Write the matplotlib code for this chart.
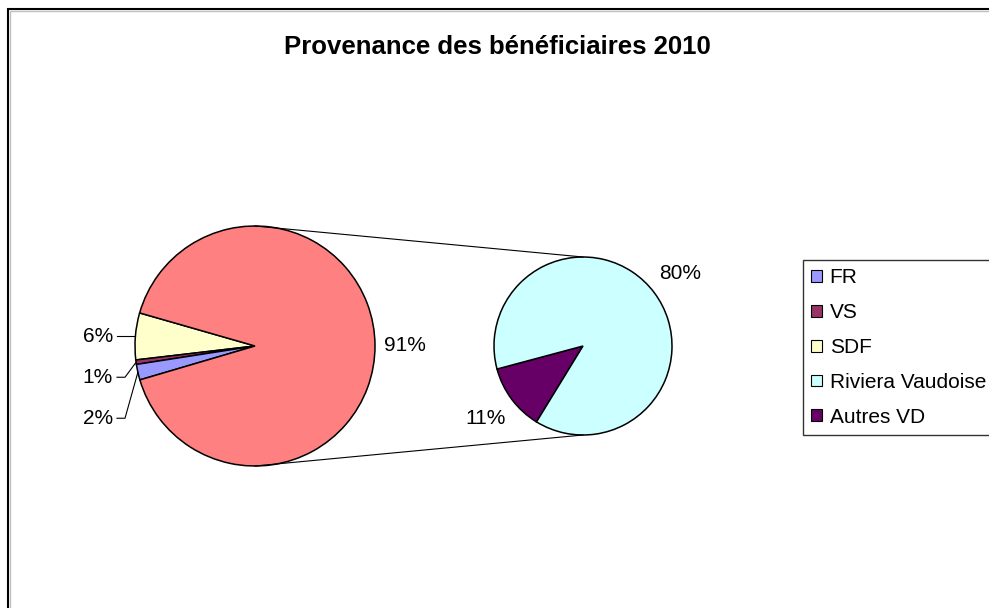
import matplotlib
matplotlib.use("Agg")
import matplotlib.pyplot as plt
from matplotlib.patches import Patch, Rectangle
import numpy as np

plt.rcParams['font.family'] = ['Liberation Sans', 'DejaVu Sans']

# ---------------- data ----------------
title = "Provenance des bénéficiaires 2010"
left_categories = ["FR", "VS", "SDF"]
left_values = [2.1, 0.6, 6.3]
right_categories = ["Riviera Vaudoise", "Autres VD"]
right_values = [80.0, 11.0]
legend_order = ["FR", "VS", "SDF", "Riviera Vaudoise", "Autres VD"]
colors = {
    "FR": "#9999FF",
    "VS": "#993366",
    "SDF": "#FFFFCC",
    "Riviera Vaudoise": "#CCFFFF",
    "Autres VD": "#660066",
    "Autres": "#FF8080",
}

W, H = 989, 608
fig = plt.figure(figsize=(W / 100, H / 100), dpi=100)
ax = fig.add_axes([0, 0, 1, 1])

def Y(y_img):
    return H - y_img

# left pie: SDF, VS, FR then the "other" (sum of right pie)
other_total = sum(right_values)
lv = dict(zip(left_categories, left_values))
left_order = ["SDF", "VS", "FR"]
left_vals = [lv[c] for c in left_order] + [other_total]
left_cols = [colors[c] for c in left_order] + [colors["Autres"]]
lc = (255, Y(346)); lr = 120
wl, _ = ax.pie(left_vals, colors=left_cols, startangle=164, center=lc, radius=lr,
               wedgeprops=dict(edgecolor="black", linewidth=1.1))

rv = dict(zip(right_categories, right_values))
right_order = ["Autres VD", "Riviera Vaudoise"]
right_vals = [rv[c] for c in right_order]
rc = (583, Y(346)); rr = 89
wr, _ = ax.pie(right_vals, colors=[colors[c] for c in right_order], startangle=195,
               center=rc, radius=rr, wedgeprops=dict(edgecolor="black", linewidth=1.1))

total = sum(left_vals)
fs = 15

def mid(w):
    return np.deg2rad((w.theta1 + w.theta2) / 2)

# big slice label
a = mid(wl[3])
ax.text(lc[0] + 1.25 * lr * np.cos(a), lc[1] + 1.25 * lr * np.sin(a),
        f"{left_vals[3] / total * 100:.0f}%", ha="center", va="center", fontsize=fs)

# small slice labels with leader lines
text_right = lc[0] - lr - 22
a0 = mid(wl[0])
y0 = lc[1] + lr * np.sin(a0)
for i in range(3):
    a = mid(wl[i])
    ex, ey = lc[0] + lr * np.cos(a), lc[1] + lr * np.sin(a)
    ty = y0 - 41 * i
    ax.text(text_right, ty, f"{left_vals[i] / total * 100:.0f}%", ha="right",
            va="center", fontsize=fs)
    ax.plot([text_right + 4, text_right + 12, ex], [ty, ty, ey], color="black", lw=0.8)

# right pie labels
for w, v in zip(wr, right_vals):
    a = mid(w)
    ax.text(rc[0] + 1.36 * rr * np.cos(a), rc[1] + 1.36 * rr * np.sin(a),
            f"{v / total * 100:.0f}%", ha="center", va="center", fontsize=fs)

# connector lines
ax.plot([lc[0], rc[0]], [lc[1] + lr, rc[1] + rr], color="black", lw=0.8)
ax.plot([lc[0], rc[0]], [lc[1] - lr, rc[1] - rr], color="black", lw=0.8)

# title
ax.text(497, Y(47), title, ha="center", va="center", fontsize=18.5, fontweight="bold")

# chart frame
ax.add_patch(Rectangle((10, -20), 1200, Y(11) + 20, fill=False, edgecolor="#c0c0c0", lw=1))
ax.add_patch(Rectangle((8, -20), 1200, Y(9) + 20, fill=False, edgecolor="black", lw=1.5))

# legend
handles = [Patch(facecolor=colors[c], edgecolor="black", lw=0.8, label=c) for c in legend_order]
leg = ax.legend(handles=handles, loc="upper left", bbox_to_anchor=(803, Y(260)),
                bbox_transform=ax.transData, fontsize=fs, frameon=True, fancybox=False,
                edgecolor="black", handlelength=0.5, handleheight=0.5,
                handletextpad=0.38, labelspacing=0.76, borderaxespad=0, borderpad=0.4)
leg.get_frame().set_linewidth(1.0)

ax.set_xlim(0, W)
ax.set_ylim(0, H)
ax.set_aspect("equal")
ax.axis("off")
fig.savefig("out.png", dpi=100)
